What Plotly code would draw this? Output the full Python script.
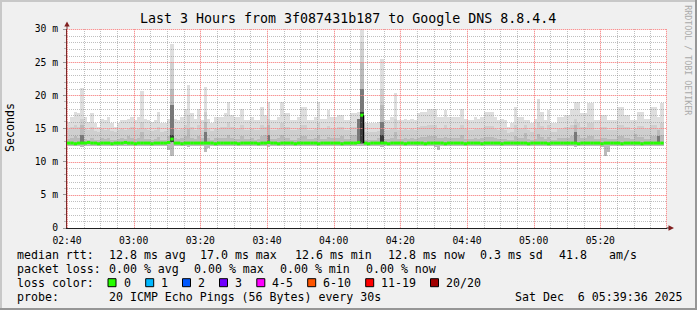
import plotly.graph_objects as go
import pandas as pd

# ---------------- data ----------------
title_text = "Last 3 Hours from 3f087431b187 to Google DNS 8.8.4.4"
start = pd.Timestamp("2025-12-06 02:40:00")
end = pd.Timestamp("2025-12-06 05:40:00")

# one column per minute, 02:40 .. 05:38 (ms)
smoke_max = [
    16.0, 16.8, 17.5, 17.3, 21.1, 16.8, 16.0, 17.3, 15.8, 15.3,
    16.5, 16.3, 16.8, 15.8, 15.3, 15.8, 16.3, 16.3, 16.5, 16.8,
    16.3, 16.8, 20.7, 16.5, 16.3, 16.0, 16.3, 17.5, 15.8, 15.8,
    16.5, 27.8, 16.5, 16.3, 16.8, 18.0, 21.6, 17.3, 16.5, 18.0,
    16.3, 21.3, 16.5, 15.8, 16.8, 16.8, 16.8, 17.3, 19.0, 17.0,
    16.8, 16.8, 18.0, 16.3, 16.3, 16.8, 16.3, 16.3, 18.3, 17.0,
    19.0, 16.3, 16.3, 16.8, 19.0, 17.3, 17.3, 16.3, 16.3, 16.8,
    18.3, 18.3, 16.3, 16.3, 16.8, 19.0, 16.5, 16.5, 17.8, 16.8,
    16.8, 17.0, 17.0, 16.3, 16.3, 17.3, 17.3, 17.5, 30.5, 15.8,
    15.8, 15.8, 15.8, 16.0, 25.5, 16.3, 16.3, 16.8, 20.3, 16.3,
    16.3, 16.5, 16.3, 16.5, 16.3, 17.3, 17.5, 17.5, 18.0, 18.0,
    18.0, 16.8, 16.8, 17.8, 16.8, 16.8, 16.8, 16.8, 18.0, 16.5,
    16.3, 16.3, 16.8, 16.5, 16.8, 17.5, 17.5, 17.5, 16.8, 16.3,
    16.5, 16.3, 15.3, 15.8, 18.3, 16.8, 16.8, 16.3, 16.3, 15.8,
    16.5, 19.5, 17.5, 16.3, 17.8, 15.8, 15.8, 16.8, 16.8, 17.0,
    17.0, 18.0, 19.0, 19.0, 17.3, 17.3, 18.8, 18.8, 16.3, 16.3,
    17.0, 17.0, 16.3, 16.3, 16.3, 18.3, 18.3, 17.0, 17.0, 16.3,
    16.3, 17.5, 17.5, 16.5, 16.5, 18.3, 18.3, 16.8, 18.8,
]
smoke_q3 = [
    15.0, 15.3, 15.5, 15.2, 16.5, 15.0, 14.8, 15.3, 14.6, 14.5,
    15.0, 14.8, 15.0, 14.6, 14.4, 14.7, 15.0, 14.8, 15.0, 15.2,
    14.8, 15.0, 16.0, 15.0, 14.8, 14.6, 14.8, 15.3, 14.5, 14.6,
    15.0, 25.0, 15.0, 14.8, 15.0, 15.5, 17.0, 15.2, 14.8, 15.5,
    14.8, 17.5, 15.0, 14.6, 15.0, 15.0, 15.2, 15.3, 16.0, 15.2,
    15.0, 15.0, 15.5, 14.8, 14.8, 15.0, 14.8, 14.8, 15.6, 15.2,
    16.5, 14.8, 14.8, 15.0, 15.8, 15.2, 15.3, 14.8, 14.8, 15.0,
    15.5, 15.6, 14.8, 14.8, 15.0, 15.8, 14.9, 14.9, 15.4, 15.0,
    15.0, 15.2, 15.2, 14.8, 14.8, 15.3, 15.3, 15.5, 28.0, 14.5,
    14.4, 14.5, 14.5, 14.6, 21.0, 14.8, 14.8, 15.0, 16.5, 14.8,
    14.8, 15.0, 14.8, 15.0, 14.8, 15.3, 15.4, 15.4, 15.6, 15.6,
    15.6, 15.0, 15.0, 15.5, 15.0, 15.0, 15.0, 15.0, 15.6, 14.9,
    14.8, 14.8, 15.0, 14.9, 15.0, 15.4, 15.4, 15.4, 15.0, 14.8,
    14.9, 14.8, 14.3, 14.5, 15.6, 15.0, 15.0, 15.5, 14.8, 14.5,
    14.9, 16.0, 15.4, 14.8, 15.5, 14.5, 14.5, 15.0, 15.0, 15.2,
    15.2, 15.6, 16.5, 15.8, 15.3, 15.3, 15.8, 15.8, 14.8, 14.8,
    15.2, 15.2, 14.8, 14.8, 14.8, 15.6, 15.6, 15.2, 15.2, 14.8,
    15.0, 15.4, 15.4, 14.9, 14.9, 15.6, 15.6, 15.0, 15.8,
]
smoke_q2 = [
    13.4, 13.5, 13.8, 13.6, 15.5, 13.4, 13.3, 13.6, 13.3, 13.2,
    13.5, 13.4, 13.6, 13.3, 13.2, 13.4, 13.5, 13.4, 13.9, 13.5,
    13.4, 13.5, 14.5, 13.4, 13.4, 13.3, 13.4, 13.7, 13.3, 13.3,
    13.8, 21.0, 13.6, 13.4, 13.5, 13.8, 15.0, 13.6, 13.4, 13.8,
    13.5, 16.0, 13.6, 13.3, 13.5, 13.5, 13.6, 13.6, 14.0, 13.5,
    13.4, 13.4, 13.8, 13.4, 13.4, 13.5, 13.3, 13.4, 13.8, 14.0,
    15.5, 13.4, 13.4, 13.5, 14.0, 13.6, 13.6, 13.3, 13.3, 13.5,
    13.8, 13.8, 13.4, 13.4, 13.5, 14.0, 13.4, 13.4, 13.7, 13.5,
    13.5, 13.6, 13.9, 13.4, 13.4, 14.0, 14.0, 15.0, 25.0, 13.3,
    13.2, 13.3, 13.3, 13.5, 18.5, 13.4, 13.4, 13.5, 14.5, 13.4,
    13.4, 13.5, 13.4, 13.5, 13.4, 13.6, 13.7, 13.7, 13.8, 13.8,
    13.8, 13.5, 13.5, 13.7, 13.5, 13.5, 13.5, 13.5, 14.0, 13.4,
    13.4, 13.4, 13.5, 13.4, 13.5, 13.7, 13.7, 13.7, 13.5, 13.4,
    13.4, 13.4, 13.2, 13.3, 13.8, 13.5, 13.5, 14.3, 13.4, 13.3,
    13.4, 14.2, 13.7, 13.4, 13.7, 13.3, 13.3, 13.5, 13.6, 13.6,
    13.6, 13.8, 15.5, 14.0, 13.6, 13.6, 13.8, 13.8, 13.4, 13.4,
    13.5, 13.5, 13.4, 13.4, 13.4, 13.8, 13.8, 13.6, 13.6, 13.4,
    14.2, 13.7, 13.7, 13.4, 13.4, 13.8, 13.8, 14.8, 14.0,
]
smoke_min = [
    12.4, 12.3, 12.4, 12.4, 12.2, 12.4, 12.4, 12.3, 12.4, 12.4,
    12.4, 12.3, 12.4, 12.4, 12.3, 12.4, 12.4, 12.4, 12.3, 12.4,
    12.4, 12.4, 12.3, 12.4, 12.4, 12.3, 12.4, 12.4, 12.4, 12.4,
    11.8, 10.8, 12.3, 12.4, 12.4, 12.3, 12.2, 12.4, 12.4, 12.3,
    12.4, 11.4, 12.0, 12.4, 12.4, 12.4, 12.3, 12.4, 12.4, 12.4,
    12.4, 12.4, 12.3, 12.4, 12.4, 12.4, 12.4, 12.3, 12.4, 12.4,
    12.2, 12.4, 12.4, 12.4, 12.3, 12.4, 12.4, 12.4, 12.4, 12.3,
    12.4, 12.4, 12.4, 12.4, 12.3, 12.4, 12.4, 12.4, 12.4, 12.4,
    12.4, 12.3, 12.4, 12.4, 12.4, 12.3, 12.4, 12.3, 12.4, 12.4,
    12.4, 12.4, 12.3, 12.4, 12.2, 12.4, 12.4, 12.4, 12.3, 12.4,
    12.4, 12.4, 12.4, 12.3, 12.4, 12.4, 12.4, 12.4, 12.3, 12.4,
    12.2, 11.7, 12.3, 12.4, 12.4, 12.4, 12.3, 12.4, 12.4, 12.4,
    12.4, 12.4, 12.3, 12.4, 12.4, 12.4, 12.4, 12.3, 12.4, 12.4,
    12.4, 12.4, 12.4, 12.3, 12.4, 12.4, 12.4, 12.4, 12.4, 12.3,
    12.4, 12.4, 12.4, 12.4, 12.3, 12.4, 12.4, 12.4, 12.4, 12.4,
    12.3, 12.4, 12.2, 12.4, 12.4, 12.4, 12.4, 12.3, 12.4, 12.4,
    12.2, 10.8, 11.5, 12.4, 12.4, 12.4, 12.3, 12.4, 12.4, 12.4,
    12.3, 12.4, 12.4, 12.4, 12.4, 12.3, 12.4, 12.4, 12.4,
]
median_rtt = [
    12.8, 12.8, 12.7, 12.8, 12.8, 12.8, 12.9, 12.8, 12.8, 12.7,
    12.8, 12.8, 12.8, 12.7, 12.8, 12.8, 12.8, 12.9, 12.8, 12.8,
    12.7, 12.8, 12.8, 12.8, 12.8, 12.7, 12.8, 12.8, 12.8, 12.8,
    12.9, 13.4, 12.8, 12.8, 12.7, 12.8, 12.8, 12.8, 12.8, 12.8,
    12.8, 12.8, 12.8, 12.8, 12.7, 12.8, 12.8, 12.8, 12.8, 12.8,
    12.8, 12.7, 12.8, 12.8, 12.8, 12.8, 12.8, 12.7, 12.8, 12.8,
    12.9, 12.8, 12.8, 12.7, 12.8, 12.8, 12.8, 12.8, 12.7, 12.8,
    12.8, 12.8, 12.8, 12.8, 12.8, 12.7, 12.8, 12.8, 12.8, 12.8,
    12.8, 12.8, 12.7, 12.8, 12.8, 12.8, 12.8, 12.9, 17.0, 12.8,
    12.7, 12.8, 12.8, 12.8, 12.8, 12.8, 12.7, 12.8, 12.8, 12.8,
    12.8, 12.7, 12.8, 12.8, 12.8, 12.8, 12.8, 12.7, 12.8, 12.8,
    12.8, 12.8, 12.8, 12.7, 12.8, 12.8, 12.8, 12.8, 12.8, 12.7,
    12.8, 12.8, 12.8, 12.8, 12.7, 12.8, 12.8, 12.8, 12.8, 12.8,
    12.7, 12.8, 12.8, 12.8, 12.8, 12.8, 12.8, 12.8, 12.7, 12.8,
    12.8, 12.8, 12.8, 12.8, 12.7, 12.8, 12.8, 12.8, 12.8, 12.8,
    12.8, 12.8, 12.8, 12.7, 12.8, 12.8, 12.8, 12.8, 12.8, 12.8,
    12.7, 12.8, 12.8, 12.8, 12.8, 12.8, 12.7, 12.8, 12.8, 12.8,
    12.8, 12.8, 12.7, 12.8, 12.8, 12.8, 12.8, 12.8, 12.8,
]
# darker smoke on the columns with spread-out pings
dark_cols = [4, 31, 41, 60, 87, 88, 94, 152, 177]
dark_base = [12.6, 12.9, 12.6, 12.6, 12.6, 12.7, 12.6, 12.6, 12.6]
dark_top = [14.0, 18.5, 14.5, 14.0, 16.5, 21.0, 16.0, 14.5, 13.8]
black_cols = [31, 88, 94]
black_base = [13.0, 12.8, 12.8]
black_top = [14.0, 17.5, 14.0]
jump_col = 88  # column where the median jumps (black step back down)

x_tick_text = ["02:40", "03:00", "03:20", "03:40", "04:00",
               "04:20", "04:40", "05:00", "05:20"]
y_tick_vals = [0, 5, 10, 15, 20, 25, 30]
y_tick_text = ["0", "5 m", "10 m", "15 m", "20 m", "25 m", "30 m"]

legend_rtt = [("median rtt:", 16), ("12.8 ms avg", 107.5), ("17.0 ms max", 199),
              ("12.6 ms min", 293.5), ("12.8 ms now", 386.8), ("0.3 ms sd", 479.3),
              ("41.8", 558), ("am/s", 607.5)]
legend_loss = [("packet loss:", 16), ("0.00 % avg", 107.5), ("0.00 % max", 193.3),
               ("0.00 % min", 279.3), ("0.00 % now", 365.4)]
loss_labels = ["0", "1", "2", "3", "4-5", "6-10", "11-19", "20/20"]
loss_colors = ["#26ff00", "#00b8ff", "#0059ff", "#7000ff",
               "#ff00ff", "#ff5500", "#ff0000", "#a10000"]
loss_box_x = [108, 145.7, 182.5, 219.5, 256.8, 307.7, 365.7, 430.5]
loss_text_x = [122.5, 159.5, 196.5, 233.7, 271.1, 321.8, 380.1, 444.6]
probe_text = "20 ICMP Echo Pings (56 Bytes) every 30s"
date_text = "Sat Dec\u00a0\u00a06 05:39:36 2025"

# ---------------- geometry helpers ----------------
W, H = 697, 310
L, R, T, B = 67, 667, 29, 228
def px(x):
    return (x - L) / (R - L)
def py(y):
    return (B - y) / (B - T)

MONO = "DejaVu Sans Mono"
minute = pd.Timedelta(minutes=1)
span = end - start
col_start = [start + i * minute for i in range(len(smoke_max))]
col_mid = [t + pd.Timedelta(seconds=30) for t in col_start]

fig = go.Figure()

def smoke(xs, tops, bases, color):
    fig.add_trace(go.Bar(
        x=xs, y=[t - b for t, b in zip(tops, bases)], base=bases,
        width=61000, marker=dict(color=color, line=dict(width=0)),
        hoverinfo="skip", showlegend=False))

smoke(col_mid, smoke_max, smoke_min, "#dedede")
smoke(col_mid, smoke_q3, smoke_min, "#cfcfcf")
smoke(col_mid, smoke_q2, smoke_min, "#bababa")
smoke([col_mid[i] for i in dark_cols], dark_top, dark_base, "#787878")
smoke([col_mid[i] for i in black_cols], black_top, black_base, "#3a3a3a")

# grid lines (above the smoke, as rrdtool draws them), snapped to pixel centres
def grid_trace(xs, ys, color, dash):
    fig.add_trace(go.Scatter(x=xs, y=ys, mode="lines",
                             line=dict(color=color, width=1, dash=dash),
                             hoverinfo="skip", showlegend=False))

vx_min, vy_min, vx_maj, vy_maj = [], [], [], []
for k in range(37):
    c = min(round(L + k * (R - L) / 36), R - 1) + 0.5
    t = start + span * ((c - L) / (R - L))
    if k % 4 == 0:
        vx_maj += [t, t, None]; vy_maj += [0, 30, None]
    else:
        vx_min += [t, t, None]; vy_min += [0, 30, None]
hx_min, hy_min, hx_maj, hy_maj = [], [], [], []
for v in range(1, 31):
    r = round(B - v * (B - T) / 30) + 0.5
    val = (B - r) * 30 / (B - T)
    if v % 5 == 0:
        hx_maj += [start, end, None]; hy_maj += [val, val, None]
    else:
        hx_min += [start, end, None]; hy_min += [val, val, None]
grid_trace(vx_min, vy_min, "rgba(128,128,128,0.5)", "1px,1px")
grid_trace(hx_min, hy_min, "rgba(128,128,128,0.5)", "1px,1px")
grid_trace(vx_maj, vy_maj, "rgba(245,120,120,0.75)", "1px,1px")
grid_trace(hx_maj, hy_maj, "rgba(245,120,120,0.75)", "1px,1px")
grid_trace(vx_maj, vy_maj, "rgba(245,140,140,0.35)", "solid")
grid_trace(hx_maj, hy_maj, "rgba(245,140,140,0.35)", "solid")

# median line: one horizontal segment per column
mx, my = [], []
for t, m in zip(col_start, median_rtt):
    mx += [t, t + minute, None]; my += [m, m, None]
fig.add_trace(go.Scatter(
    x=mx, y=my, mode="lines", line=dict(color="#26ff00", width=3),
    hoverinfo="skip", showlegend=False))
fig.add_trace(go.Scatter(
    x=[col_start[jump_col + 1]] * 2,
    y=[median_rtt[jump_col], median_rtt[jump_col + 1]],
    mode="lines", line=dict(color="#000000", width=1.2),
    hoverinfo="skip", showlegend=False))

x_tick_vals = [start + k * 20 * minute for k in range(len(x_tick_text))]

fig.update_layout(
    width=W, height=H,
    margin=dict(l=L, r=W - R, t=T, b=H - B, pad=0),
    paper_bgcolor="#f0f0f0", plot_bgcolor="#ffffff",
    barmode="overlay", bargap=0,
    showlegend=False,
    font=dict(family=MONO, color="#000000"),
    xaxis=dict(type="date", range=[start, end], showgrid=False, zeroline=False,
               tickvals=x_tick_vals, ticktext=x_tick_text,
               tickfont=dict(family=MONO, size=9.7, color="#000"),
               ticks="", showline=True, linecolor="#1f1f1f", linewidth=1,
               ticklabelstandoff=3),
    yaxis=dict(range=[0, 30], showgrid=False, zeroline=False,
               tickvals=y_tick_vals, ticktext=y_tick_text,
               tickfont=dict(family=MONO, size=9.7, color="#000"),
               ticks="outside", ticklen=3, tickcolor="#999", tickwidth=1,
               minor=dict(ticks="outside", ticklen=2, dtick=1, tickcolor="#bbb", showgrid=False),
               showline=True, linecolor="#7a2a2a", linewidth=1,
               ticklabelstandoff=3),
)

ann = []
def text(x, y, s, size=11.6, anchor="left", color="#000", angle=0):
    ann.append(dict(x=px(x), y=py(y), xref="paper", yref="paper", text=s,
                    showarrow=False, xanchor=anchor, yanchor="middle",
                    font=dict(family=MONO, size=size, color=color),
                    textangle=angle, borderpad=0))

text(347.5, 18.5, title_text, size=13.3, anchor="center")
text(10.5, 127.4, "Seconds", size=11.6, anchor="center", angle=-90)
text(687.7, 60, "RRDTOOL / TOBI OETIKER", size=8.3, anchor="center", color="#aaaaaa", angle=90)

for s, x in legend_rtt:
    text(x, 254.7, s)
for s, x in legend_loss:
    text(x, 268.7, s)
text(16, 282.7, "loss color:")
for lab, x in zip(loss_labels, loss_text_x):
    text(x, 282.7, lab)
text(16, 296.7, "probe:")
text(107.5, 296.7, probe_text)
text(513.5, 296.7, date_text)
fig.update_layout(annotations=ann)

shapes = []
def rect(x0, y0, x1, y1, fill, line=None):
    shapes.append(dict(type="rect", xref="paper", yref="paper",
                       x0=px(x0), x1=px(x1), y0=py(y0), y1=py(y1),
                       fillcolor=fill, layer="above",
                       line=dict(width=1 if line else 0, color=line or fill)))

for c, x in zip(loss_colors, loss_box_x):
    rect(x, 278.7, x + 8, 286.7, c, "#000000")

# 3-D frame
rect(0, 0, W, 2, "#c8c8c8")
rect(0, 0, 2, H, "#c8c8c8")
rect(0, H - 2, W, H, "#969696")
rect(W - 2, 0, W, H, "#969696")

# axis arrows
shapes.append(dict(type="line", xref="paper", yref="paper",
                   x0=px(67), x1=px(67), y0=py(29), y1=py(24),
                   line=dict(color="#7a2a2a", width=1), layer="above"))
shapes.append(dict(type="path", xref="paper", yref="paper",
                   path=f"M {px(64.3)},{py(26.5)} L {px(67)},{py(21.5)} L {px(69.7)},{py(26.5)} Z",
                   fillcolor="#801f1f", line=dict(width=0), layer="above"))
shapes.append(dict(type="line", xref="paper", yref="paper",
                   x0=px(667), x1=px(670), y0=py(228), y1=py(228),
                   line=dict(color="#1f1f1f", width=1), layer="above"))
shapes.append(dict(type="path", xref="paper", yref="paper",
                   path=f"M {px(668.5)},{py(225.3)} L {px(674)},{py(228)} L {px(668.5)},{py(230.7)} Z",
                   fillcolor="#801f1f", line=dict(width=0), layer="above"))
fig.update_layout(shapes=shapes)

fig.write_html("out.html")
